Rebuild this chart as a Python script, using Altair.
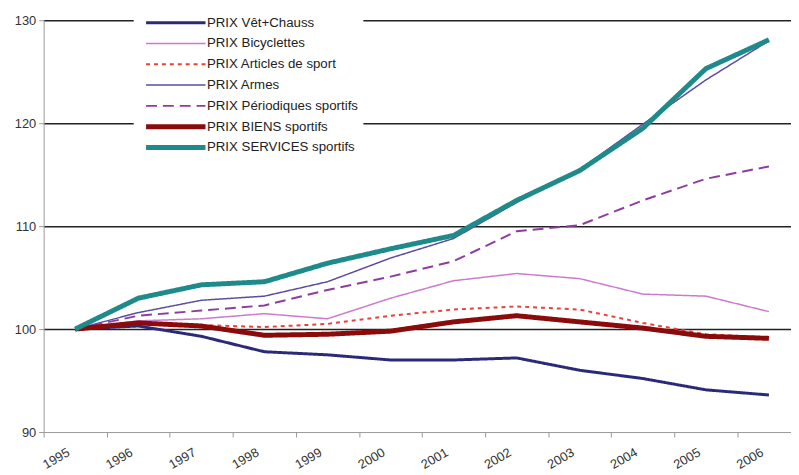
import altair as alt
import pandas as pd

years = list(range(1995, 2007))
series = ["PRIX Vêt+Chauss", "PRIX Bicyclettes", "PRIX Articles de sport", "PRIX Armes",
          "PRIX Périodiques sportifs", "PRIX BIENS sportifs", "PRIX SERVICES sportifs"]
vet = [100, 100.3, 99.3, 97.8, 97.5, 97.0, 97.0, 97.2, 96.0, 95.2, 94.1, 93.6]
bicy = [100, 100.8, 101.0, 101.5, 101.0, 103.0, 104.7, 105.4, 104.9, 103.4, 103.2, 101.7]
art = [100, 100.6, 100.4, 100.2, 100.5, 101.3, 101.9, 102.2, 101.9, 100.6, 99.5, 99.2]
armes = [100, 101.6, 102.8, 103.2, 104.6, 106.9, 108.8, 112.3, 115.5, 119.9, 124.2, 128.0]
perio = [100, 101.3, 101.8, 102.3, 103.8, 105.1, 106.6, 109.5, 110.1, 112.5, 114.6, 115.8]
biens = [100, 100.6, 100.3, 99.4, 99.5, 99.8, 100.7, 101.3, 100.7, 100.1, 99.3, 99.1]
serv = [100, 103.0, 104.3, 104.6, 106.4, 107.8, 109.1, 112.5, 115.4, 119.5, 125.3, 128.1]
y_ticks = [90, 100, 110, 120, 130]

colors = ["#2B2A7A", "#CC7ACC", "#E8413C", "#5A4DA0", "#8E3D9E", "#8B0A0A", "#1E8A8A"]
dashes = [[1, 0], [1, 0], [4, 4], [1, 0], [11, 6], [1, 0], [1, 0]]
widths = [3, 1.5, 2, 1.5, 2, 5, 5]

values = [vet, bicy, art, armes, perio, biens, serv]
rows = []
for name, vals in zip(series, values):
    for yr, v in zip(years, vals):
        rows.append({"year": yr, "value": v, "series": name})
df = pd.DataFrame(rows)

FONT = "Liberation Sans"
half = 31.85

legend = alt.Legend(
    title=None, orient="none", legendX=91, legendY=-9.5, fillColor="white",
    padding=5, symbolType="M0,0L12,0", symbolSize=100, labelFont=FONT,
    labelFontSize=13.4, labelColor="#222", labelOffset=54, rowPadding=7,
    clipHeight=14,
)

chart = alt.Chart(df).mark_line().encode(
    x=alt.X("year:Q", title=None,
            scale=alt.Scale(domain=[1994.5, 2006.35], nice=False, zero=False),
            axis=alt.Axis(values=years, format="d", labelAngle=-30, tickOffset=-half,
                          labelOffset=half - 10, grid=False, domainColor="#999", tickColor="#999",
                          tickSize=5, labelFont=FONT, labelFontSize=13, labelColor="#333",
                          labelPadding=9)),
    y=alt.Y("value:Q", title=None,
            scale=alt.Scale(domain=[90, 130], nice=False, zero=False),
            axis=alt.Axis(values=y_ticks, grid=True, gridColor="#222", gridWidth=1.5,
                          gridOpacity=alt.condition("datum.value === 90", alt.value(0), alt.value(1)),
                          domainColor="#999", tickColor="#999", tickSize=5, labelPadding=3,
                          labelFont=FONT, labelFontSize=13, labelColor="#333")),
    color=alt.Color("series:N", sort=series, scale=alt.Scale(domain=series, range=colors), legend=legend),
    strokeDash=alt.StrokeDash("series:N", sort=series, scale=alt.Scale(domain=series, range=dashes), legend=legend),
    strokeWidth=alt.StrokeWidth("series:N", sort=series,
                                scale=alt.Scale(type="ordinal", domain=series, range=widths), legend=legend),
).properties(
    width=755, height=416,
    autosize=alt.AutoSizeParams(type="none"),
    padding={"left": 36, "top": 10, "right": 0, "bottom": 40},
).configure_view(stroke=None)

chart.save("out.html", embed_options={"renderer": "svg", "actions": False})
